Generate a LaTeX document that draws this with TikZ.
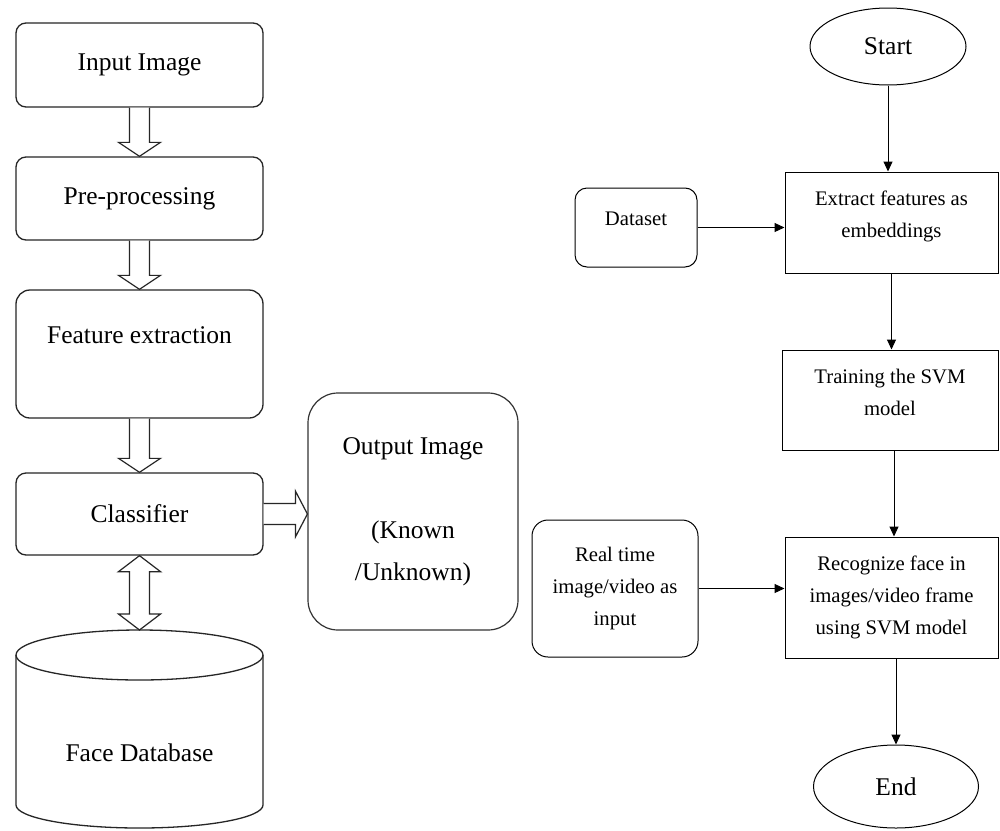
\documentclass[tikz,border=0pt]{standalone}
\usepackage{fontspec}
\setmainfont{Liberation Serif}
\usetikzlibrary{calc,shapes.geometric,arrows.meta}
\tikzset{
  lbox/.style={draw=black!85, line width=1.3pt, rounded corners=10pt, minimum width=247pt, inner sep=0pt, font=\fontsize{25.5}{30}\selectfont},
  rbox/.style={draw=black, line width=1pt, inner sep=0pt, align=center, font=\fontsize{20.7}{32}\selectfont},
  rrbox/.style={rbox, rounded corners=12pt},
  term/.style={draw=black, line width=1pt, ellipse, inner sep=0pt, font=\fontsize{25.5}{30}\selectfont},
  hollow/.style={draw=black!85, line width=1.2pt, fill=white, line join=miter},
  conn/.style={draw=black, line width=1pt, -{Triangle[length=10pt,width=9pt]}},
}
\newcommand{\blkdown}[2]{%
 \draw[hollow] ($(#1.south)+(-10,0)$) -- ($(#2.north)+(-10,-14)$) -- ($(#2.north)+(-21,-14)$) -- (#2.north) -- ($(#2.north)+(21,-14)$) -- ($(#2.north)+(10,-14)$) -- ($(#1.south)+(10,0)$);}
\newcommand{\upbox}[2]{\raisebox{#1}[\height][\depth]{\begin{tabular}{@{}c@{}}#2\end{tabular}}}
\begin{document}
\begin{tikzpicture}[x=1pt,y=-1pt]
\fill[white] (0,0) rectangle (1000,830);
\useasboundingbox (0,0) rectangle (1000,830);
% left column
\node[lbox, minimum height=84pt] (ii) at (139.5,65) {Input Image};
\node[lbox, minimum height=83pt] (pp) at (139.5,198.5) {Pre-processing};
\node[lbox, minimum height=128pt, rounded corners=14pt, text height=17pt, text depth=38pt] (fe) at (139.5,354) {Feature extraction};
\node[lbox, minimum height=82pt] (cls) at (139.5,514) {Classifier};
% database cylinder
\draw[draw=black!85, line width=1.3pt] (16,655) -- (16,805) arc[start angle=180, end angle=0, x radius=123.5, y radius=23] -- (263,655);
\draw[draw=black!85, line width=1.3pt] (139.5,655) ellipse[x radius=123.5, y radius=25];
\coordinate (dbtop) at (139.5,630);
\node[font=\fontsize{25.5}{30}\selectfont] (fdb) at (139.5,753) {Face Database};
% output
\node[draw=black!80, line width=1.2pt, rounded corners=30pt, minimum width=210pt, minimum height=237pt, inner sep=0pt, align=center, font=\fontsize{25.5}{42}\selectfont] (out) at (413,511.5) {Output Image\\[42pt](Known\\/Unknown)};
% block arrows
\blkdown{ii}{pp}
\blkdown{pp}{fe}
\blkdown{fe}{cls}
\draw[hollow] (cls.south) -- ++(21,16) -- ++(-11,0) -- ($(dbtop)+(10,-16)$) -- ++(11,0) -- (dbtop) -- ++(-21,-16) -- ++(11,0) -- ($(cls.south)+(-10,16)$) -- ++(-11,0) -- cycle;
\draw[hollow] ($(cls.east)+(0,-10.5)$) -- ($(cls.east -| out.west)+(-12,-10.5)$) -- ++(0,-12.5) -- (cls.east -| out.west) -- ++(-12,23) -- ++(0,-12.5) -- ($(cls.east)+(0,10.5)$);
% right flowchart
\node[term, minimum width=156pt, minimum height=77pt] (start) at (888,46.5) {Start};
\node[rbox, minimum width=213pt, minimum height=101pt] (ext) at (891.5,222.5) {\upbox{7pt}{Extract features as\\embeddings}};
\node[rrbox, minimum width=122pt, minimum height=79pt, text height=14pt, text depth=18pt] (ds) at (636,227.5) {Dataset};
\node[rbox, minimum width=216pt, minimum height=100pt] (trn) at (890,400) {\upbox{7pt}{Training the SVM\\model}};
\node[rbox, minimum width=213pt, minimum height=121pt] (rec) at (891.5,597.5) {Recognize face in\\images/video frame\\using SVM model};
\node[rrbox, rounded corners=16pt, minimum width=166pt, minimum height=137pt] (rt) at (615,588.5) {Real time\\image/video as\\input};
\node[term, minimum width=165pt, minimum height=83pt] (end) at (896,786.5) {End};
\draw[conn] (start.south) -- (start.south |- ext.north);
\draw[conn] (ds.east) -- (ds.east -| ext.west);
\draw[conn] (ext.south) -- (ext.south |- trn.north);
\draw[conn] ($(trn.south)+(4,0)$) -- ($(trn.south |- rec.north)+(4,0)$);
\draw[conn] (rt.east) -- (rt.east -| rec.west);
\draw[conn] (end.north |- rec.south) -- (end.north);
\end{tikzpicture}
\end{document}
